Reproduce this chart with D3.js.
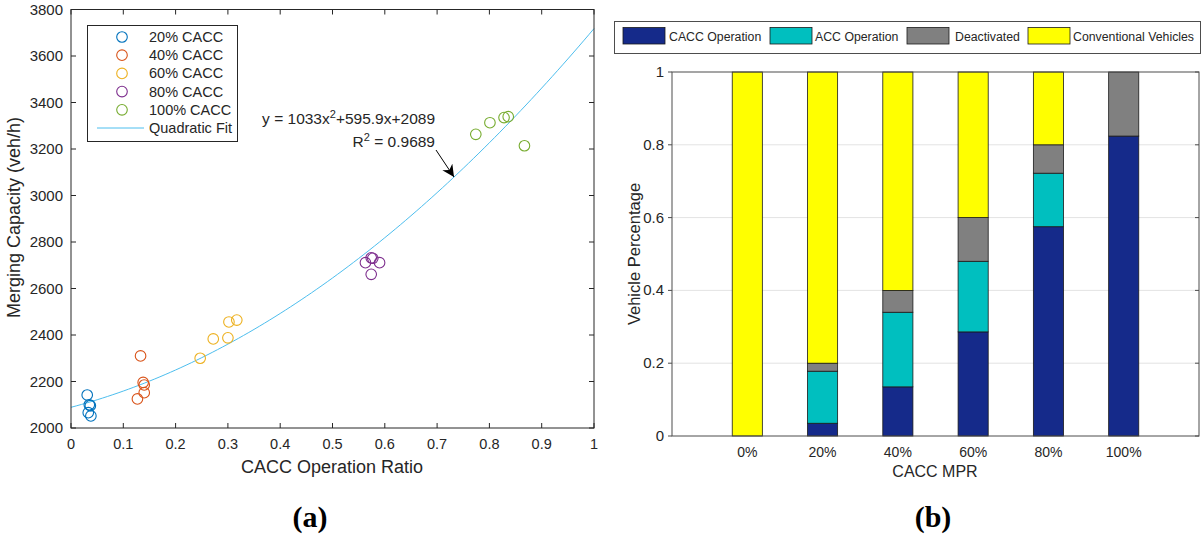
<!DOCTYPE html>
<html><head><meta charset="utf-8">
<script src="https://cdn.jsdelivr.net/npm/d3@7"></script>
<style>body{margin:0;background:#fff}svg{display:block;font-family:"Liberation Sans",Arial,sans-serif}</style>
</head><body><svg id="c" width="1203" height="536"></svg>
<script>
// ---------- Data (a) ----------
const groupNames = ["20% CACC","40% CACC","60% CACC","80% CACC","100% CACC"];
const groupColors = ["#0072BD","#D95319","#EDB120","#7E2F8E","#77AC30"];
const ratio20 = [0.031,0.035,0.037,0.033,0.038];
const cap20   = [2142,2100,2096,2066,2052];
const ratio40 = [0.133,0.138,0.140,0.140,0.127];
const cap40   = [2310,2196,2185,2152,2125];
const ratio60 = [0.247,0.272,0.300,0.302,0.317];
const cap60   = [2300,2383,2388,2456,2464];
const ratio80 = [0.563,0.574,0.577,0.590,0.574];
const cap80   = [2711,2732,2730,2711,2661];
const ratio100= [0.774,0.801,0.828,0.836,0.867];
const cap100  = [3263,3313,3335,3339,3214];
const fitCoef = [1033, 595.9, 2089];
const xTicksA = [0,0.1,0.2,0.3,0.4,0.5,0.6,0.7,0.8,0.9,1];
const yTicksA = [2000,2200,2400,2600,2800,3000,3200,3400,3600,3800];

// ---------- Data (b) ----------
const categories = ["0%","20%","40%","60%","80%","100%"];
const seriesNames = ["CACC Operation","ACC Operation","Deactivated","Conventional Vehicles"];
const seriesColors = ["#152a8a","#00bfbf","#808080","#ffff00"];
const caccOp = [0,0.035,0.135,0.286,0.575,0.824];
const accOp  = [0,0.143,0.205,0.194,0.147,0];
const deact  = [0,0.022,0.060,0.120,0.078,0.176];
const conv   = [1,0.800,0.600,0.400,0.200,0];
const yTicksB = [0,0.2,0.4,0.6,0.8,1];

const svg = d3.select("#c");
const txtCol = "#262626", axCol = "#262626";

// ================= Panel (a) =================
const A = {l:71, r:594, t:9.5, b:428};
const xA = d3.scaleLinear().domain([0,1]).range([A.l,A.r]);
const yA = d3.scaleLinear().domain([2000,3800]).range([A.b,A.t]);
const gA = svg.append("g");

// fit curve
const fitPts = d3.range(0,1.0001,0.01).map(x=>[x, fitCoef[0]*x*x+fitCoef[1]*x+fitCoef[2]]);
gA.append("path").datum(fitPts)
  .attr("d", d3.line().x(d=>xA(d[0])).y(d=>yA(Math.min(d[1],3800))))
  .attr("fill","none").attr("stroke","#4DBEEE").attr("stroke-width",1);

// scatter
const groups = [[ratio20,cap20],[ratio40,cap40],[ratio60,cap60],[ratio80,cap80],[ratio100,cap100]];
groups.forEach((g,i)=>{
  gA.selectAll(null).data(g[0].map((r,j)=>[r,g[1][j]])).enter().append("circle")
    .attr("cx",d=>xA(d[0])).attr("cy",d=>yA(d[1])).attr("r",5.3)
    .attr("fill","none").attr("stroke",groupColors[i]).attr("stroke-width",1.1);
});

// box & ticks
gA.append("rect").attr("x",A.l).attr("y",A.t).attr("width",A.r-A.l).attr("height",A.b-A.t)
  .attr("fill","none").attr("stroke",axCol).attr("stroke-width",1);
xTicksA.forEach(t=>{
  gA.append("line").attr("x1",xA(t)).attr("x2",xA(t)).attr("y1",A.b).attr("y2",A.b-5).attr("stroke",axCol);
  gA.append("line").attr("x1",xA(t)).attr("x2",xA(t)).attr("y1",A.t).attr("y2",A.t+5).attr("stroke",axCol);
  gA.append("text").attr("x",xA(t)).attr("y",A.b+21).attr("text-anchor","middle")
    .attr("font-size",14.5).attr("fill",txtCol).text(t);
});
yTicksA.forEach(t=>{
  gA.append("line").attr("x1",A.l).attr("x2",A.l+5).attr("y1",yA(t)).attr("y2",yA(t)).attr("stroke",axCol);
  gA.append("line").attr("x1",A.r).attr("x2",A.r-5).attr("y1",yA(t)).attr("y2",yA(t)).attr("stroke",axCol);
  gA.append("text").attr("x",A.l-8).attr("y",yA(t)+5).attr("text-anchor","end")
    .attr("font-size",15).attr("fill",txtCol).text(t);
});
gA.append("text").attr("x",332).attr("y",473).attr("text-anchor","middle")
  .attr("font-size",18).attr("fill",txtCol).text("CACC Operation Ratio");
gA.append("text").attr("transform",`translate(20,217.5) rotate(-90)`).attr("text-anchor","middle")
  .attr("font-size",18).attr("fill",txtCol).text("Merging Capacity (veh/h)");

// legend (a)
const lgA = gA.append("g");
lgA.append("rect").attr("x",87.5).attr("y",25.5).attr("width",150).attr("height",116)
  .attr("fill","#fff").attr("stroke",axCol).attr("stroke-width",1);
groupNames.forEach((n,i)=>{
  const y = 37 + i*18.2;
  lgA.append("circle").attr("cx",122).attr("cy",y).attr("r",5.3).attr("fill","none")
    .attr("stroke",groupColors[i]).attr("stroke-width",1.1);
  lgA.append("text").attr("x",149).attr("y",y+5).attr("font-size",14.5).attr("fill",txtCol).text(n);
});
lgA.append("line").attr("x1",97).attr("x2",144).attr("y1",128).attr("y2",128).attr("stroke","#4DBEEE").attr("stroke-width",1);
lgA.append("text").attr("x",149).attr("y",133).attr("font-size",14.5).attr("fill",txtCol).text("Quadratic Fit");

// equation + arrow
const eq = gA.append("text").attr("x",435).attr("y",123.5).attr("text-anchor","end").attr("font-size",15.5).attr("fill",txtCol);
eq.append("tspan").text("y = 1033x");
eq.append("tspan").attr("font-size",11).attr("dy",-6).text("2");
eq.append("tspan").attr("dy",6).text("+595.9x+2089");
const eq2 = gA.append("text").attr("x",435).attr("y",146.5).attr("text-anchor","end").attr("font-size",15.5).attr("fill",txtCol);
eq2.append("tspan").text("R");
eq2.append("tspan").attr("font-size",11).attr("dy",-6).text("2");
eq2.append("tspan").attr("dy",6).text(" = 0.9689");
svg.append("defs").append("marker").attr("id","ah").attr("viewBox","0 0 10 10").attr("refX",10).attr("refY",5)
  .attr("markerWidth",12).attr("markerHeight",12).attr("markerUnits","userSpaceOnUse").attr("orient","auto")
  .append("path").attr("d","M0,0 L10,5 L0,10 L3,5 Z").attr("fill","#000");
gA.append("line").attr("x1",436).attr("y1",150).attr("x2",454).attr("y2",177)
  .attr("stroke","#000").attr("stroke-width",1).attr("marker-end","url(#ah)");

// ================= Panel (b) =================
const B = {l:672, r:1199, t:72, b:436};
const xB = d3.scaleLinear().domain([0,categories.length+1]).range([B.l,B.r]);
const yB = d3.scaleLinear().domain([0,1]).range([B.b,B.t]);
const gB = svg.append("g");
// grid
yTicksB.slice(1,-1).forEach(t=>{
  gB.append("line").attr("x1",B.l).attr("x2",B.r).attr("y1",yB(t)).attr("y2",yB(t)).attr("stroke","#e3e3e3").attr("stroke-width",1);
});
const table = categories.map((c,i)=>({cat:c, idx:i, s0:caccOp[i], s1:accOp[i], s2:deact[i], s3:conv[i]}));
const stack = d3.stack().keys(["s0","s1","s2","s3"])(table);
const bw = xB(0.2)-xB(-0.2);
stack.forEach((layer,k)=>{
  gB.selectAll(null).data(layer.filter(d=>d[1]-d[0]>0)).enter().append("rect")
    .attr("x",d=>xB(d.data.idx+1)-bw/2).attr("width",bw)
    .attr("y",d=>yB(d[1])).attr("height",d=>yB(d[0])-yB(d[1]))
    .attr("fill",seriesColors[k]).attr("stroke","#1a1a1a").attr("stroke-width",0.8);
});
gB.append("rect").attr("x",B.l).attr("y",B.t).attr("width",B.r-B.l).attr("height",B.b-B.t)
  .attr("fill","none").attr("stroke","#4d4d4d").attr("stroke-width",1);
yTicksB.forEach(t=>{
  gB.append("line").attr("x1",B.l-4).attr("x2",B.l).attr("y1",yB(t)).attr("y2",yB(t)).attr("stroke","#4d4d4d");
  gB.append("line").attr("x1",B.r-4).attr("x2",B.r).attr("y1",yB(t)).attr("y2",yB(t)).attr("stroke","#4d4d4d");
  gB.append("text").attr("x",B.l-8).attr("y",yB(t)+5).attr("text-anchor","end")
    .attr("font-size",15).attr("fill",txtCol).text(t);
});
categories.forEach((c,i)=>{
  gB.append("text").attr("x",xB(i+1)).attr("y",457).attr("text-anchor","middle")
    .attr("font-size",14).attr("fill",txtCol).text(c);
});
gB.append("text").attr("x",935).attr("y",477).attr("text-anchor","middle")
  .attr("font-size",16).attr("fill",txtCol).text("CACC MPR");
gB.append("text").attr("transform",`translate(640,${(B.t+B.b)/2}) rotate(-90)`).attr("text-anchor","middle")
  .attr("font-size",16.5).attr("fill",txtCol).text("Vehicle Percentage");

// legend (b)
gB.append("rect").attr("x",614.5).attr("y",21.5).attr("width",586).attr("height",32)
  .attr("fill","#fff").attr("stroke","#4d4d4d").attr("stroke-width",1);
const sw = [623,770,907,1028], tx=[669,815,955,1073];
seriesNames.forEach((n,i)=>{
  gB.append("rect").attr("x",sw[i]).attr("y",27.5).attr("width",42).attr("height",16.5)
    .attr("fill",seriesColors[i]).attr("stroke","#1a1a1a").attr("stroke-width",0.8);
  gB.append("text").attr("x",tx[i]).attr("y",40.5).attr("font-size",12.3).attr("fill",txtCol).text(n);
});

// captions
svg.append("text").attr("x",310).attr("y",527).attr("text-anchor","middle")
  .attr("font-family","'Liberation Serif',serif").attr("font-weight","bold").attr("font-size",30).text("(a)");
svg.append("text").attr("x",933).attr("y",527).attr("text-anchor","middle")
  .attr("font-family","'Liberation Serif',serif").attr("font-weight","bold").attr("font-size",30).text("(b)");
</script></body></html>
